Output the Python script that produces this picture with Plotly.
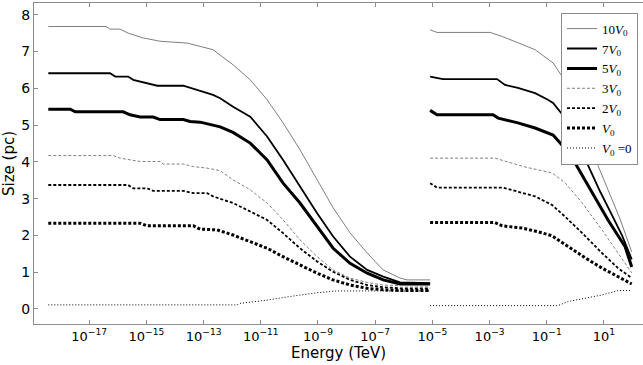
import plotly.graph_objects as go

# ---- data: log10(Energy/TeV) and Size (pc); None separates the two energy segments ----
logE_10V0 = [-18.43, -16.41, -16.27, -15.92, -15.64, -15.11, -14.52, -13.57, -13.12, -12.67, -11.97, -11.37,
             -10.78, -10.22, -9.63, -9.03, -8.47, -7.88, -7.28, -6.72, -6.13, -5.89, -5.08, None,
             -5.08, -4.84, -2.98, -2.56, -2.01, -1.41, -0.78, -0.36, 0.17, 0.52, 0.79, 1.21, 1.56, 1.97]
size_10V0 = [7.68, 7.68, 7.61, 7.61, 7.50, 7.37, 7.28, 7.23, 7.14, 7.05, 6.64, 6.23,
             5.69, 5.06, 4.33, 3.51, 2.75, 2.07, 1.52, 1.06, 0.84, 0.79, 0.79, None,
             7.59, 7.52, 7.52, 7.41, 7.24, 7.05, 6.69, 6.20, 5.20, 4.50, 3.90, 3.10, 2.45, 1.55]

logE_7V0 = [-18.43, -16.27, -16.09, -15.64, -15.46, -15.11, -14.62, -13.71, -13.47, -13.02, -12.67, -12.42,
            -11.97, -11.37, -10.78, -10.22, -9.63, -9.03, -8.47, -7.88, -7.28, -6.72, -6.13, -5.08, None,
            -5.08, -4.63, -2.74, -2.46, -2.01, -1.41, -0.96, -0.78, -0.26, 0.10, 0.44, 0.86, 1.28, 1.63, 1.97]
size_7V0 = [6.41, 6.41, 6.32, 6.32, 6.23, 6.16, 6.07, 6.07, 6.01, 5.91, 5.82, 5.73,
            5.50, 5.23, 4.69, 4.05, 3.33, 2.60, 1.97, 1.42, 1.06, 0.88, 0.72, 0.70, None,
            6.32, 6.25, 6.25, 6.09, 6.01, 5.87, 5.69, 5.60, 5.10, 4.50, 3.90, 3.20, 2.55, 2.00, 1.35]

logE_5V0 = [-18.43, -17.66, -17.49, -15.81, -15.57, -15.22, -14.76, -14.52, -13.71, -13.47, -13.12, -12.67,
            -12.42, -11.97, -11.37, -10.78, -10.22, -9.63, -9.03, -8.47, -7.88, -7.28, -6.72, -6.13, -5.08, None,
            -5.08, -4.84, -2.88, -2.70, -2.01, -1.41, -0.78, -0.40, -0.01, 0.58, 1.14, 1.74, 1.97]
size_5V0 = [5.43, 5.43, 5.36, 5.36, 5.28, 5.22, 5.22, 5.15, 5.15, 5.10, 5.08, 5.00,
            4.95, 4.80, 4.51, 4.05, 3.42, 2.88, 2.24, 1.65, 1.24, 0.97, 0.79, 0.68, 0.68, None,
            5.40, 5.28, 5.28, 5.19, 5.06, 4.92, 4.73, 4.40, 3.97, 3.16, 2.42, 1.69, 1.14]

logE_3V0 = [-18.43, -16.16, -15.92, -15.22, -14.52, -14.41, -13.71, -13.36, -12.88, -12.42, -11.97, -11.37,
            -10.78, -10.22, -9.63, -9.03, -8.47, -7.88, -7.28, -6.72, -6.13, -5.08, None,
            -5.08, -2.81, -1.76, -0.82, -0.36, 0.23, 0.93, 1.49, 1.97]
size_3V0 = [4.17, 4.17, 4.10, 4.01, 4.01, 3.94, 3.94, 3.87, 3.83, 3.76, 3.51, 3.24,
            2.88, 2.42, 1.88, 1.42, 1.06, 0.84, 0.72, 0.65, 0.63, 0.62, None,
            4.10, 4.10, 3.86, 3.70, 3.43, 2.89, 2.15, 1.52, 0.98]

logE_2V0 = [-18.43, -15.64, -15.46, -14.97, -14.76, -13.71, -13.36, -12.88, -12.67, -11.97, -11.37, -10.78,
            -10.22, -9.63, -9.03, -8.47, -7.88, -7.28, -6.72, -6.13, -5.08, None,
            -5.08, -4.84, -2.53, -2.01, -1.41, -0.82, -0.36, 0.23, 0.93, 1.49, 1.97]
size_2V0 = [3.37, 3.37, 3.28, 3.28, 3.21, 3.21, 3.15, 3.15, 3.06, 2.88, 2.65, 2.42,
            2.06, 1.65, 1.29, 1.01, 0.79, 0.65, 0.59, 0.56, 0.56, None,
            3.42, 3.30, 3.30, 3.19, 3.06, 2.83, 2.51, 2.07, 1.52, 1.11, 0.84]

logE_V0 = [-18.43, -15.22, -14.97, -13.36, -13.12, -12.53, -11.97, -11.37, -10.78, -10.22, -9.63, -9.03,
           -8.47, -7.88, -7.28, -6.72, -6.13, -5.08, None,
           -5.08, -2.81, -2.56, -1.87, -1.31, -0.82, -0.26, 0.34, 0.93, 1.49, 1.97]
size_V0 = [2.33, 2.33, 2.26, 2.26, 2.17, 2.15, 2.01, 1.83, 1.65, 1.42, 1.20, 0.97,
           0.79, 0.65, 0.56, 0.52, 0.50, 0.50, None,
           2.35, 2.35, 2.26, 2.20, 2.10, 1.99, 1.70, 1.39, 1.11, 0.88, 0.68]

logE_V00 = [-18.43, -11.83, -11.72, -10.78, -9.87, -9.03, -8.33, -5.08, None,
            -5.08, -0.61, -0.26, 0.34, 0.93, 1.49, 1.97]
size_V00 = [0.11, 0.11, 0.15, 0.24, 0.35, 0.44, 0.49, 0.49, None,
            0.09, 0.09, 0.20, 0.30, 0.38, 0.50, 0.50]

x_tick_exponents = [-17, -15, -13, -11, -9, -7, -5, -3, -1, 1]
y_ticks = [0, 1, 2, 3, 4, 5, 6, 7, 8]

series = [
    ("10<i>V</i><sub>0</sub>", logE_10V0, size_10V0, dict(color="#7f7f7f", width=1, dash="solid")),
    ("7<i>V</i><sub>0</sub>", logE_7V0, size_7V0, dict(color="black", width=1.8, dash="solid")),
    ("5<i>V</i><sub>0</sub>", logE_5V0, size_5V0, dict(color="black", width=3, dash="solid")),
    ("3<i>V</i><sub>0</sub>", logE_3V0, size_3V0, dict(color="#7f7f7f", width=1, dash="3px,2px")),
    ("2<i>V</i><sub>0</sub>", logE_2V0, size_2V0, dict(color="black", width=1.8, dash="3px,2px")),
    ("<i>V</i><sub>0</sub>", logE_V0, size_V0, dict(color="black", width=3, dash="3px,2px")),
    ("<i>V</i><sub>0</sub> =0", logE_V00, size_V00, dict(color="black", width=1, dash="1px,2px")),
]

fig = go.Figure()
for name, le, s, line in series:
    x = [None if e is None else 10 ** e for e in le]
    fig.add_trace(go.Scatter(x=x, y=s, mode="lines", name=name, line=line,
                             connectgaps=False, showlegend=True))

axis_col = "#8c8c8c"
fig.update_layout(
    width=643, height=365,
    margin=dict(l=34, r=0, t=3, b=41),
    paper_bgcolor="white", plot_bgcolor="white",
    font=dict(family="DejaVu Sans", color="black", size=13),
    showlegend=True,
    legend=dict(x=0.9918, y=0.97, xanchor="right", yanchor="top",
                bgcolor="white", bordercolor=axis_col, borderwidth=1,
                font=dict(family="Liberation Serif", size=13, color="black"),
                tracegroupgap=0, entrywidth=45, entrywidthmode="pixels"),
    xaxis=dict(type="log", range=[-18.93, 2.364],
               tickvals=[10 ** e for e in x_tick_exponents],
               ticktext=["10<sup>%d</sup>" % e if e >= 0 else "10<sup>\u2212%d</sup>" % (-e) for e in x_tick_exponents],
               ticks="inside", ticklen=4, tickcolor=axis_col,
               showline=True, linecolor=axis_col, linewidth=1, mirror="allticks",
               showgrid=False, zeroline=False,
               tickfont=dict(size=13),
               title=dict(text="Energy (TeV)", font=dict(size=15), standoff=4)),
    yaxis=dict(range=[-0.41, 8.32], tickvals=y_ticks,
               ticks="inside", ticklen=4, tickcolor=axis_col,
               showline=True, linecolor=axis_col, linewidth=1, mirror=False,
               showgrid=False, zeroline=False,
               tickfont=dict(size=14),
               title=dict(text="Size (pc)", font=dict(size=15), standoff=4)),
)

fig.write_html("out.html")
